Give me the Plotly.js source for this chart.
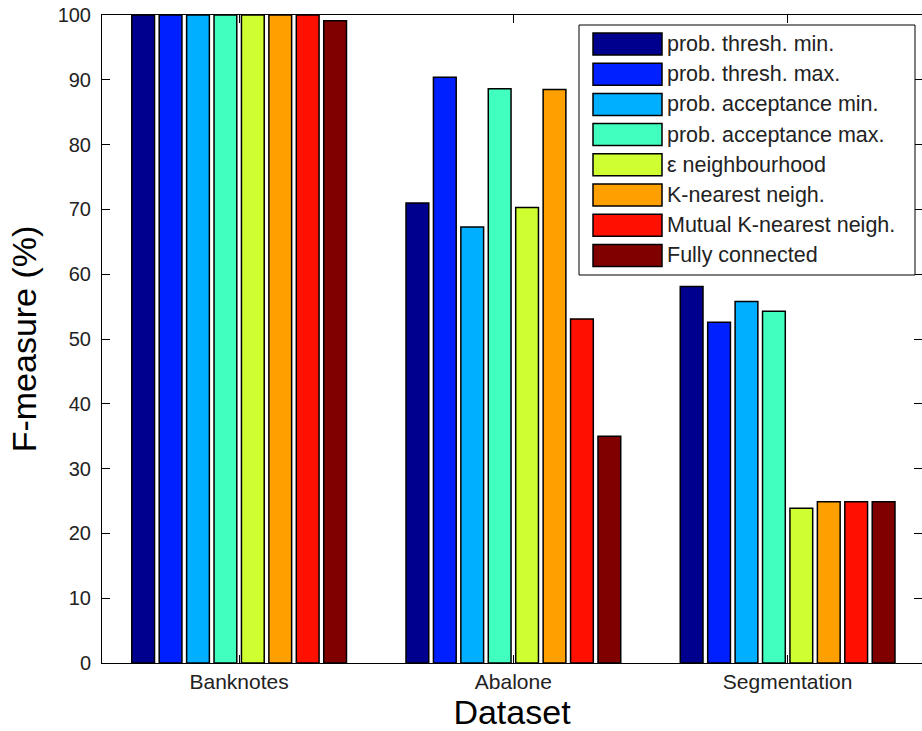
<!DOCTYPE html>
<html>
<head>
<meta charset="utf-8">
<script src="https://cdn.plot.ly/plotly-3.0.1.min.js"></script>
<style>
html,body{margin:0;padding:0;overflow:hidden;background:#fff;}
#chart{width:922px;height:731px;}
</style>
</head>
<body>
<div id="chart"></div>
<script>
// ---- data ----
const categories = ["Banknotes", "Abalone", "Segmentation"];
const seriesNames = [
  "prob. thresh. min.",
  "prob. thresh. max.",
  "prob. acceptance min.",
  "prob. acceptance max.",
  "ε neighbourhood",
  "K-nearest neigh.",
  "Mutual K-nearest neigh.",
  "Fully connected"
];
const seriesColors = ["#00008F", "#0020FF", "#00AFFF", "#40FFBF", "#CFFF30", "#FF9F00", "#FF1000", "#800000"];
const threshMin      = [100, 71.0, 58.1];
const threshMax      = [100, 90.4, 52.6];
const acceptMin      = [100, 67.3, 55.8];
const acceptMax      = [100, 88.6, 54.3];
const epsNeigh       = [100, 70.3, 23.9];
const kNearest       = [100, 88.5, 24.9];
const mutualKNearest = [100, 53.1, 24.9];
const fullyConnected = [99.1, 35.0, 24.9];
const seriesValues = [threshMin, threshMax, acceptMin, acceptMax, epsNeigh, kNearest, mutualKNearest, fullyConnected];
const yTicks = [0, 10, 20, 30, 40, 50, 60, 70, 80, 90, 100];

// ---- layout constants ----
const W = 922, H = 731;
const M = {l: 102, r: 0, t: 15, b: 68};
const plotW = W - M.l - M.r, plotH = H - M.t - M.b;
const px2x = p => (p - M.l) / plotW;
const px2y = p => (H - M.b - p) / plotH;

const traces = seriesNames.map((name, i) => ({
  type: 'bar',
  name: name,
  x: categories,
  y: seriesValues[i],
  marker: {color: seriesColors[i], line: {color: '#000', width: 1.5}},
  showlegend: false,
  hoverinfo: 'x+y+name'
}));

// custom MATLAB-style legend
const shapes = [];
const annotations = [];
const legL = 579, legR = 915, legT = 25, legB = 275;
shapes.push({type: 'rect', xref: 'paper', yref: 'paper', layer: 'above',
  x0: px2x(legL), x1: px2x(legR), y0: px2y(legB), y1: px2y(legT),
  fillcolor: '#fff', line: {color: '#000', width: 1}});
seriesNames.forEach((name, i) => {
  const top = 33 + 30.2 * i;
  shapes.push({type: 'rect', xref: 'paper', yref: 'paper', layer: 'above',
    x0: px2x(593), x1: px2x(662), y0: px2y(top + 22), y1: px2y(top),
    fillcolor: seriesColors[i], line: {color: '#000', width: 1.5}});
  annotations.push({xref: 'paper', yref: 'paper', x: px2x(665), y: px2y(top + 11),
    xanchor: 'left', yanchor: 'middle', showarrow: false, text: name,
    font: {family: 'Liberation Sans, Arial, sans-serif', size: 21.5, color: '#222'}});
});

const layout = {
  width: W, height: H,
  margin: M,
  paper_bgcolor: '#fff', plot_bgcolor: '#fff',
  barmode: 'group', bargap: 0.2, bargroupgap: 0.17,
  font: {family: 'Liberation Sans, Arial, sans-serif', size: 20, color: '#222'},
  xaxis: {
    type: 'category', range: [-0.5, 2.49],
    showline: true, linecolor: '#000', linewidth: 1, mirror: 'ticks',
    ticks: 'inside', ticklen: 8, tickcolor: '#000', tickwidth: 1,
    showgrid: false, zeroline: false,
    tickfont: {size: 21, color: '#222'},
    ticklabelstandoff: 0,
    title: {text: 'Dataset', font: {size: 34, color: '#000'}, standoff: 9}
  },
  yaxis: {
    range: [0, 100], tickvals: yTicks,
    showline: true, linecolor: '#000', linewidth: 1, mirror: 'ticks',
    ticks: 'inside', ticklen: 8, tickcolor: '#000', tickwidth: 1,
    showgrid: false, zeroline: false,
    tickfont: {size: 20, color: '#222'},
    ticklabelstandoff: 6,
    title: {text: 'F-measure (%)', font: {size: 34, color: '#000'}, standoff: 10}
  },
  shapes: shapes,
  annotations: annotations,
  showlegend: false
};

Plotly.newPlot('chart', traces, layout, {displayModeBar: false, staticPlot: true});
</script>
</body>
</html>
